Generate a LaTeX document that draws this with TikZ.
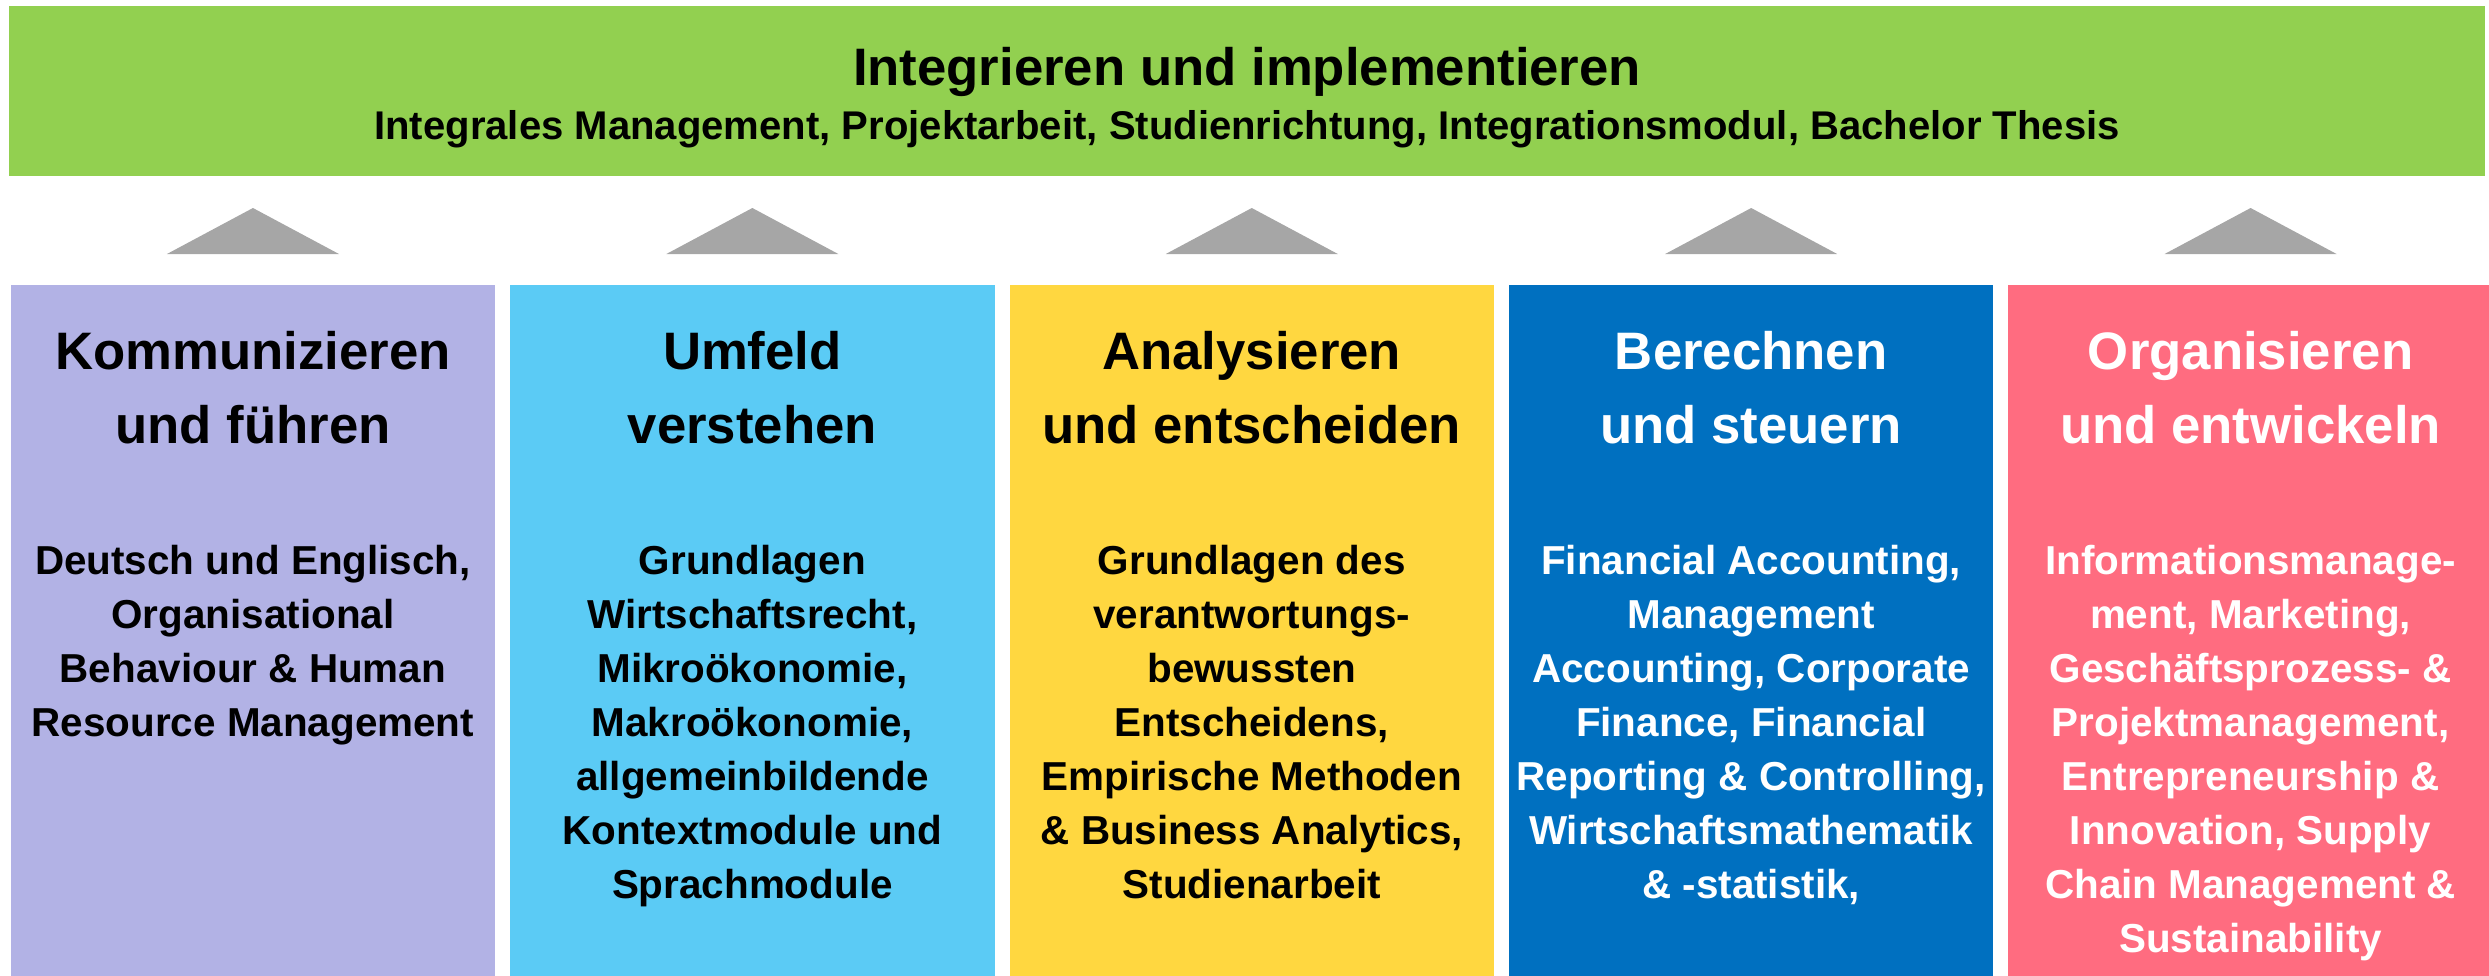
\documentclass[tikz,border=0pt]{standalone}
\usepackage{fontspec}
\setmainfont{Liberation Sans}
\usepackage{tikz}
\usetikzlibrary{positioning, calc}
\definecolor{integcol}{HTML}{92D050}
\definecolor{kommcol}{HTML}{B2B2E5}
\definecolor{umfeldcol}{HTML}{5BCBF5}
\definecolor{analysecol}{HTML}{FFD740}
\definecolor{berechcol}{HTML}{0070C0}
\definecolor{organcol}{HTML}{FF6C80}
\definecolor{arrowgray}{HTML}{A6A6A6}
\tikzstyle{topbar} = [rectangle, minimum width=24.76cm, minimum height=1.70cm, inner sep=0pt, fill=integcol]
\tikzstyle{bartitle} = [anchor=base, inner sep=0pt, font=\fontsize{15}{18}\selectfont\bfseries]
\tikzstyle{barsub} = [anchor=base, inner sep=0pt, font=\fontsize{11.4}{14}\selectfont\bfseries]
\tikzstyle{pillar} = [rectangle, minimum width=4.845cm, minimum height=6.92cm, inner sep=0pt, anchor=north west]
\tikzstyle{heading} = [anchor=north, align=center, inner sep=0pt, font=\fontsize{15}{20.8}\selectfont\bfseries]
\tikzstyle{topics} = [anchor=north, align=center, inner sep=0pt, font=\fontsize{11.5}{15.4}\selectfont\bfseries]
\tikzstyle{uparrow} = [fill=arrowgray]

\begin{document}
\begin{tikzpicture}[node distance=0.135cm]
\useasboundingbox (0,0) rectangle (24.89,-9.76);

% Top bar
\node (integ) [topbar] at (12.47,-0.91) {};
\node (integtitle) [bartitle] at (12.47,-0.86) {Integrieren und implementieren};
\node (integsub) [barsub] at (12.47,-1.40) {Integrales Management, Projektarbeit, Studienrichtung, Integrationsmodul, Bachelor Thesis};

% Pillars
\node (komm) [pillar, fill=kommcol] at (0.10,-2.84) {};
\node (umfeld) [pillar, fill=umfeldcol, right=of komm] {};
\node (analyse) [pillar, fill=analysecol, right=of umfeld] {};
\node (berech) [pillar, fill=berechcol, right=of analyse] {};
\node (organ) [pillar, fill=organcol, right=of berech] {};

% Arrows up to the top bar
\fill [uparrow] ($(komm.north)+(-0.86,0.30)$) -- ($(komm.north)+(0.86,0.30)$) -- ($(komm.north)+(0,0.76)$) -- cycle;
\fill [uparrow] ($(umfeld.north)+(-0.86,0.30)$) -- ($(umfeld.north)+(0.86,0.30)$) -- ($(umfeld.north)+(0,0.76)$) -- cycle;
\fill [uparrow] ($(analyse.north)+(-0.86,0.30)$) -- ($(analyse.north)+(0.86,0.30)$) -- ($(analyse.north)+(0,0.76)$) -- cycle;
\fill [uparrow] ($(berech.north)+(-0.86,0.30)$) -- ($(berech.north)+(0.86,0.30)$) -- ($(berech.north)+(0,0.76)$) -- cycle;
\fill [uparrow] ($(organ.north)+(-0.86,0.30)$) -- ($(organ.north)+(0.86,0.30)$) -- ($(organ.north)+(0,0.76)$) -- cycle;

% Headings
\node (kommhead) [heading] at ($(komm.north)+(0,-0.47)$) {Kommunizieren\\und führen};
\node (umfeldhead) [heading] at ($(umfeld.north)+(0,-0.47)$) {Umfeld\\verstehen};
\node (analysehead) [heading] at ($(analyse.north)+(0,-0.47)$) {Analysieren\\und entscheiden};
\node (berechhead) [heading, text=white] at ($(berech.north)+(0,-0.47)$) {Berechnen\\und steuern};
\node (organhead) [heading, text=white] at ($(organ.north)+(0,-0.47)$) {Organisieren\\und entwickeln};

% Modules
\node (kommtext) [topics] at ($(komm.north)+(0,-2.60)$) {Deutsch und Englisch,\\Organisational\\Behaviour \& Human\\Resource Management};
\node (umfeldtext) [topics] at ($(umfeld.north)+(0,-2.60)$) {Grundlagen\\Wirtschaftsrecht,\\Mikroökonomie,\\Makroökonomie,\\allgemeinbildende\\Kontextmodule und\\Sprachmodule};
\node (analysetext) [topics] at ($(analyse.north)+(0,-2.60)$) {Grundlagen des\\verantwortungs-\\bewussten\\Entscheidens,\\Empirische Methoden\\\& Business Analytics,\\Studienarbeit};
\node (berechtext) [topics, text=white] at ($(berech.north)+(0,-2.60)$) {Financial Accounting,\\Management\\Accounting, Corporate\\Finance, Financial\\Reporting \& Controlling,\\Wirtschaftsmathematik\\\& -statistik,};
\node (organtext) [topics, text=white] at ($(organ.north)+(0,-2.60)$) {Informationsmanage-\\ment, Marketing,\\Geschäftsprozess- \&\\Projektmanagement,\\Entrepreneurship \&\\Innovation, Supply\\Chain Management \&\\Sustainability};

\end{tikzpicture}
\end{document}
